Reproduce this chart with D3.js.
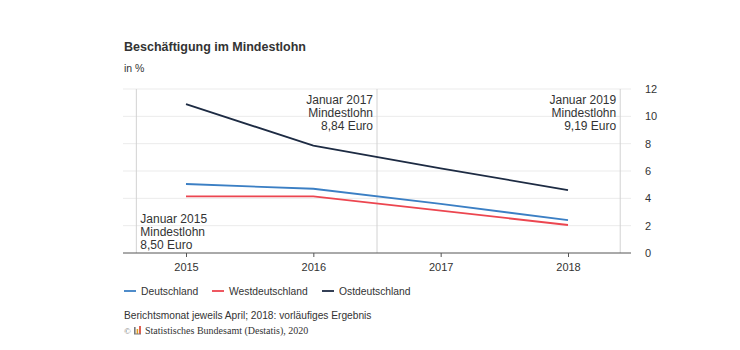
<!DOCTYPE html>
<html>
<head>
<meta charset="utf-8">
<script src="https://cdn.jsdelivr.net/npm/d3@7"></script>
<style>
  body { margin: 0; background: #fff; }
  text { font-family: "Liberation Sans", Arial, sans-serif; fill: #333; }
  text.serif { font-family: "Liberation Serif", "DejaVu Serif", serif; }
</style>
</head>
<body>
<div id="chart"></div>
<script>
const years = [2015, 2016, 2017, 2018];
const deutschland = [5.05, 4.7, 3.6, 2.4];
const westdeutschland = [4.15, 4.15, 3.1, 2.05];
const ostdeutschland = [10.9, 7.85, 6.2, 4.6];
const yTicks = [0, 2, 4, 6, 8, 10, 12];

// Mindestlohn-Stufen (Position auf der Jahresachse, Text)
const markers = [
    { at: 2014.61, lines: ["Januar 2015", "Mindestlohn", "8,50 Euro"], align: "start", pos: "bottom" },
    { at: 2016.5, lines: ["Januar 2017", "Mindestlohn", "8,84 Euro"], align: "end", pos: "top" },
    { at: 2018.41, lines: ["Januar 2019", "Mindestlohn", "9,19 Euro"], align: "end", pos: "top" }
];

const series = [
    { name: "Deutschland", values: deutschland, color: "#3b7fc4" },
    { name: "Westdeutschland", values: westdeutschland, color: "#ec4650" },
    { name: "Ostdeutschland", values: ostdeutschland, color: "#1d2b43" }
];

const width = 740;
const height = 350;

const xScale = d3.scaleLinear().domain([2015, 2018]).range([186, 568]);
const yScale = d3.scaleLinear().domain([0, 12]).range([253, 89]);
const plotLeft = 123;
const plotRight = 631;

const svg = d3.select("#chart").append("svg")
    .attr("width", width)
    .attr("height", height);

svg.append("text")
    .attr("x", 124).attr("y", 51)
    .attr("font-size", 12.5).attr("font-weight", "bold")
    .text("Beschäftigung im Mindestlohn");

svg.append("text")
    .attr("x", 124).attr("y", 72)
    .attr("font-size", 10.5)
    .text("in %");

// grid
svg.append("g").selectAll("line")
    .data(yTicks.filter(d => d > 0))
    .join("line")
    .attr("x1", plotLeft).attr("x2", plotRight)
    .attr("y1", d => yScale(d)).attr("y2", d => yScale(d))
    .attr("stroke", "#ebebeb").attr("stroke-width", 1);

// vertical markers
svg.append("g").selectAll("line")
    .data(markers)
    .join("line")
    .attr("x1", d => xScale(d.at)).attr("x2", d => xScale(d.at))
    .attr("y1", yScale(12)).attr("y2", yScale(0))
    .attr("stroke", "#d2d2d2").attr("stroke-width", 1);

markers.forEach(m => {
    const x = xScale(m.at) + (m.align === "start" ? 4 : -4);
    const y0 = m.pos === "top" ? 104 : 223;
    const t = svg.append("text")
        .attr("font-size", 12)
        .attr("text-anchor", m.align);
    m.lines.forEach((l, i) => {
        t.append("tspan").attr("x", x).attr("y", y0 + i * 13).text(l);
    });
});

// x axis
const xAxis = svg.append("g")
    .attr("transform", `translate(0,${yScale(0)})`)
    .call(d3.axisBottom(xScale).tickValues(years).tickFormat(d3.format("d")).tickSize(4).tickPadding(6));
xAxis.select(".domain").remove();
xAxis.selectAll(".tick line").attr("stroke", "#555");
xAxis.selectAll("text").attr("font-size", 11).attr("fill", "#333")
    .attr("font-family", "Liberation Sans, Arial, sans-serif");
svg.append("line")
    .attr("x1", plotLeft).attr("x2", plotRight)
    .attr("y1", yScale(0)).attr("y2", yScale(0))
    .attr("stroke", "#555").attr("stroke-width", 1);

// y axis (right)
const yAxis = svg.append("g")
    .attr("transform", `translate(${plotRight + 8},0)`)
    .call(d3.axisRight(yScale).tickValues(yTicks).tickSize(0).tickPadding(6));
yAxis.select(".domain").remove();
yAxis.selectAll("text").attr("font-size", 11).attr("fill", "#333")
    .attr("font-family", "Liberation Sans, Arial, sans-serif");

// lines
const line = d3.line()
    .x((d, i) => xScale(years[i]))
    .y(d => yScale(d));

svg.append("g").selectAll("path")
    .data(series)
    .join("path")
    .attr("fill", "none")
    .attr("stroke", d => d.color)
    .attr("stroke-width", 1.8)
    .attr("d", d => line(d.values));

// legend
const legendX = [124, 212, 322];
const legend = svg.append("g").selectAll("g")
    .data(series)
    .join("g")
    .attr("transform", (d, i) => `translate(${legendX[i]},291)`);
legend.append("line")
    .attr("x1", 0).attr("x2", 12)
    .attr("stroke", d => d.color).attr("stroke-width", 1.8);
legend.append("text")
    .attr("x", 17).attr("y", 4)
    .attr("font-size", 10.3)
    .text(d => d.name);

svg.append("text")
    .attr("x", 124).attr("y", 319)
    .attr("font-size", 10.2)
    .text("Berichtsmonat jeweils April; 2018: vorläufiges Ergebnis");

// source line with small logo
const src = svg.append("g").attr("transform", "translate(124,334)");
src.append("text")
    .attr("class", "serif")
    .attr("x", 0).attr("y", 0)
    .attr("font-size", 9)
    .style("fill", "#777")
    .text("©");
src.append("rect").attr("x", 10).attr("y", -7).attr("width", 1.6).attr("height", 7).attr("fill", "#7a7a7a");
src.append("rect").attr("x", 12.6).attr("y", -5).attr("width", 1.6).attr("height", 5).attr("fill", "#e0a020");
src.append("rect").attr("x", 15.2).attr("y", -8).attr("width", 1.6).attr("height", 8).attr("fill", "#d63a2a");
src.append("rect").attr("x", 10).attr("y", -0.5).attr("width", 7).attr("height", 1).attr("fill", "#7a7a7a");
src.append("text")
    .attr("class", "serif")
    .attr("x", 21).attr("y", 0)
    .attr("font-size", 10)
    .text("Statistisches Bundesamt (Destatis), 2020");
</script>
</body>
</html>
